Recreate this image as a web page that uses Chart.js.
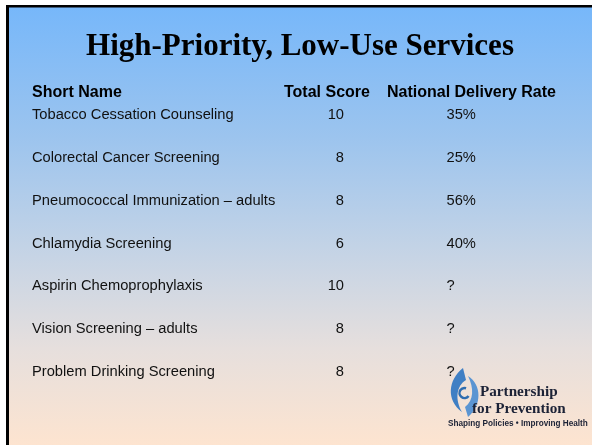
<!DOCTYPE html>
<html><head><meta charset="utf-8">
<script src="https://cdn.jsdelivr.net/npm/chart.js@4"></script>
<style>html,body{margin:0;padding:0;background:#fff;overflow:hidden}#wrap{width:592px;height:445px}</style>
</head><body><div id="wrap"><canvas id="c" width="592" height="445"></canvas></div>
<script>
// ---- data ----
const services = [
  'Tobacco Cessation Counseling',
  'Colorectal Cancer Screening',
  'Pneumococcal Immunization \u2013 adults',
  'Chlamydia Screening',
  'Aspirin Chemoprophylaxis',
  'Vision Screening \u2013 adults',
  'Problem Drinking Screening'
];
const totalScores = [10, 8, 8, 6, 10, 8, 8];
const deliveryRates = [35, 25, 56, 40, null, null, null]; // null = unknown ("?")
const columnHeaders = ['Short Name', 'Total Score', 'National Delivery Rate'];
const titleText = 'High-Priority, Low-Use Services';

// ---- layout / style ----
const BODY_FONT = '14.7px "Liberation Sans", Arial, sans-serif';
const HEAD_FONT = 'bold 16px "Liberation Sans", Arial, sans-serif';
const COLS = { nameLeft: 32, scoreHeadLeft: 284, scoreRight: 344, rateHeadLeft: 387, rateLeft: 446.5 };

const slideBackground = {
  id: 'slideBackground',
  beforeDraw(chart) {
    const ctx = chart.ctx, W = chart.width, H = chart.height;
    ctx.save();
    ctx.fillStyle = '#ffffff';
    ctx.fillRect(0, 0, W, H);
    const g = ctx.createLinearGradient(0, 5, 0, H);
    g.addColorStop(0, '#76b7fa');
    g.addColorStop(0.3, '#9cc4ee');
    g.addColorStop(0.55, '#c3d3e6');
    g.addColorStop(0.78, '#e6dfdd');
    g.addColorStop(1, '#fde4d0');
    ctx.fillStyle = g;
    ctx.fillRect(6, 5, W - 6, H - 5);
    ctx.fillStyle = '#000';
    ctx.fillRect(6, 5, W - 6, 2.5);
    ctx.fillRect(6, 5, 3, H - 5);
    ctx.restore();
  }
};

const tableText = {
  id: 'tableText',
  afterDraw(chart) {
    const ctx = chart.ctx, y = chart.scales.y;
    const ds = chart.data.datasets;
    ctx.save();
    ctx.textBaseline = 'middle';
    ctx.fillStyle = '#000';
    ctx.font = HEAD_FONT;
    const hy = chart.chartArea.top - 1;
    ctx.textAlign = 'left';
    ctx.fillText(columnHeaders[0], COLS.nameLeft, hy);
    ctx.fillText(columnHeaders[1], COLS.scoreHeadLeft, hy);
    ctx.fillText(columnHeaders[2], COLS.rateHeadLeft, hy);
    ctx.font = BODY_FONT;
    ctx.fillStyle = '#111';
    ds[0].data.forEach((v, i) => {
      ctx.textAlign = 'right';
      ctx.fillText(String(v), COLS.scoreRight, y.getPixelForValue(i));
    });
    ds[1].data.forEach((v, i) => {
      ctx.textAlign = 'left';
      ctx.fillText(v == null ? '?' : v + '%', COLS.rateLeft, y.getPixelForValue(i));
    });
    // logo swirl
    ctx.fillStyle = '#3f7fc4';
    ctx.beginPath();
    ctx.moveTo(463, 368);
    ctx.bezierCurveTo(448, 380, 446, 400, 462, 412);
    ctx.bezierCurveTo(455, 400, 456, 386, 466, 380);
    ctx.closePath();
    ctx.fill();
    ctx.fillStyle = '#5b95d2';
    ctx.beginPath();
    ctx.moveTo(468, 417);
    ctx.bezierCurveTo(482, 405, 482, 385, 468, 376);
    ctx.bezierCurveTo(474, 388, 474, 400, 465, 407);
    ctx.closePath();
    ctx.fill();
    ctx.strokeStyle = '#2f6db0';
    ctx.lineWidth = 2.5;
    ctx.beginPath();
    ctx.arc(464.5, 393, 5, Math.PI * 0.2, Math.PI * 1.6);
    ctx.stroke();
    ctx.fillStyle = '#1c2236';
    ctx.font = 'bold 15.2px "Liberation Serif", serif';
    ctx.textAlign = 'left';
    ctx.fillText('Partnership', 480, 392);
    ctx.fillText('for Prevention', 472, 409);
    ctx.font = 'bold 8.2px "Liberation Sans Narrow", "Liberation Sans", sans-serif';
    ctx.fillText('Shaping Policies \u2022 Improving Health', 448, 424);
    ctx.restore();
  }
};

new Chart(document.getElementById('c'), {
  type: 'bar',
  data: {
    labels: services,
    datasets: [
      { label: columnHeaders[1], data: totalScores, xAxisID: 'xs', backgroundColor: 'rgba(0,0,0,0)', borderWidth: 0 },
      { label: columnHeaders[2], data: deliveryRates, xAxisID: 'xr', backgroundColor: 'rgba(0,0,0,0)', borderWidth: 0 }
    ]
  },
  options: {
    indexAxis: 'y',
    responsive: false,
    animation: false,
    devicePixelRatio: 1,
    layout: { padding: { left: 32, right: 24, top: 0, bottom: 51.6 } },
    plugins: {
      legend: { display: false },
      tooltip: { enabled: false },
      title: {
        display: true,
        text: titleText,
        color: '#000',
        font: { family: '"Liberation Serif", "Times New Roman", serif', size: 31, weight: 'bold' },
        padding: { top: 28, bottom: 28.4 }
      }
    },
    scales: {
      xs: { display: false, min: 0, max: 10 },
      xr: { display: false, min: 0, max: 100 },
      y: {
        type: 'category',
        position: 'left',
        offset: true,
        grid: { display: false },
        border: { display: false },
        ticks: {
          autoSkip: false,
          crossAlign: 'far',
          padding: 0,
          color: '#111',
          font: { family: '"Liberation Sans", Arial, sans-serif', size: 14.7 }
        }
      }
    }
  },
  plugins: [slideBackground, tableText]
});
</script>
</body></html>
